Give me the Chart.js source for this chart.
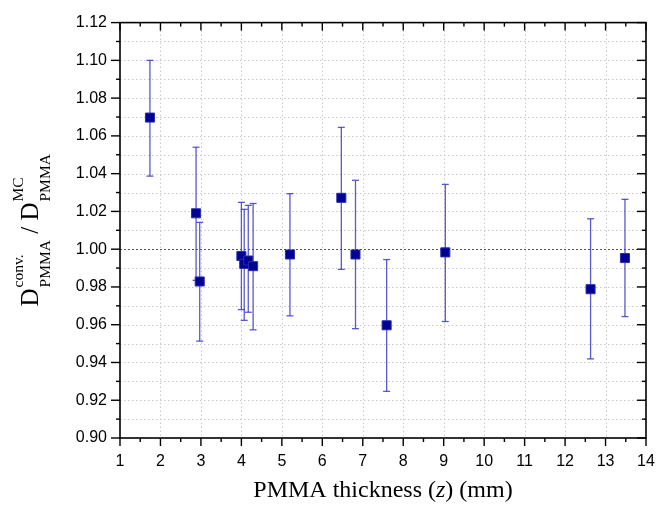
<!DOCTYPE html>
<html>
<head>
<meta charset="utf-8">
<script src="https://cdn.jsdelivr.net/npm/chart.js@4.4.0/dist/chart.umd.min.js"></script>
<style>
  html, body { margin: 0; padding: 0; background: #fff; }
  #wrap { width: 670px; height: 510px; position: relative; }
</style>
</head>
<body>
<div id="wrap"><canvas id="chart" width="670" height="510"></canvas></div>
<script>
// PMMA thickness (mm) and the conv./MC dose ratio
const thickness = [1.74, 2.88, 2.97, 4.00, 4.07, 4.17, 4.29, 5.20, 6.47, 6.82, 7.59, 9.04, 12.63, 13.48];
const doseRatio = [1.0697, 1.0190, 0.9829, 0.9964, 0.9922, 0.9940, 0.9910, 0.9972, 1.0272, 0.9972, 0.9597, 0.9983, 0.9788, 0.9953];
// error bar ends
const ratioHigh = [1.1000, 1.0540, 1.0142, 1.0248, 1.0211, 1.0232, 1.0242, 1.0294, 1.0645, 1.0365, 0.9945, 1.0343, 1.0161, 1.0264];
const ratioLow  = [1.0387, 0.9835, 0.9513, 0.9680, 0.9623, 0.9666, 0.9573, 0.9647, 0.9893, 0.9579, 0.9247, 0.9617, 0.9419, 0.9643];

const xMin = 1, xMax = 14;
const yMin = 0.90, yMax = 1.12;
const referenceRatio = 1.00;

function line(ctx, x1, y1, x2, y2) {
    ctx.beginPath();
    ctx.moveTo(x1, y1);
    ctx.lineTo(x2, y2);
    ctx.stroke();
}

// grid, 1.00 line and error bars go under the squares
const underlay = {
    id: 'underlay',
    beforeDatasetsDraw(chart) {
        const { ctx, chartArea: a, scales: { x, y } } = chart;
        ctx.save();
        ctx.lineWidth = 1;
        ctx.strokeStyle = '#c9c9c9';
        ctx.setLineDash([1.5, 2.5]);
        for (let v = xMin + 1; v < xMax; v++) {
            const px = Math.round(x.getPixelForValue(v)) + 0.5;
            line(ctx, px, a.top, px, a.bottom);
        }
        for (let i = 1; i < 22; i++) {
            const v = yMin + i * 0.01;
            if (Math.abs(v - referenceRatio) < 1e-6) continue;
            const py = Math.round(y.getPixelForValue(v)) + 0.5;
            line(ctx, a.left, py, a.right, py);
        }
        // reference line at 1.00
        ctx.strokeStyle = '#555';
        ctx.setLineDash([2, 2]);
        const ry = Math.round(y.getPixelForValue(referenceRatio)) + 0.5;
        line(ctx, a.left, ry, a.right, ry);

        // error bars
        ctx.setLineDash([]);
        ctx.strokeStyle = 'rgba(60, 60, 200, 0.85)';
        ctx.lineWidth = 1.3;
        const cap = 3.5;
        thickness.forEach((t, i) => {
            const px = x.getPixelForValue(t);
            const hi = y.getPixelForValue(ratioHigh[i]);
            const lo = y.getPixelForValue(ratioLow[i]);
            line(ctx, px, hi, px, lo);
            line(ctx, px - cap, hi, px + cap, hi);
            line(ctx, px - cap, lo, px + cap, lo);
        });
        ctx.restore();
    },
    afterDraw(chart) {
        const { ctx, chartArea: a, scales: { x, y } } = chart;
        ctx.save();
        ctx.strokeStyle = '#000';
        ctx.lineWidth = 1.6;
        ctx.strokeRect(a.left, a.top, a.right - a.left, a.bottom - a.top);

        // ticks: bottom/left outward, top/right inward
        ctx.lineWidth = 1.4;
        for (let v = xMin; v <= xMax; v += 0.5) {
            const px = x.getPixelForValue(v);
            const len = Number.isInteger(v) ? 8 : 4;
            line(ctx, px, a.bottom, px, a.bottom + len);
            line(ctx, px, a.top, px, a.top + len);
        }
        for (let i = 0; i <= 22; i++) {
            const py = y.getPixelForValue(yMin + i * 0.01);
            const len = i % 2 === 0 ? 9 : 4;
            line(ctx, a.left - len, py, a.left, py);
            line(ctx, a.right - len, py, a.right, py);
        }

        // x axis title
        ctx.fillStyle = '#000';
        ctx.textBaseline = 'alphabetic';
        const serif = '"Liberation Serif", "Times New Roman", serif';
        const parts = [
            ['PMMA thickness (', '24px ' + serif],
            ['z', 'italic 24px ' + serif],
            [') (mm)', '24px ' + serif]
        ];
        let total = 0;
        parts.forEach(p => { ctx.font = p[1]; total += ctx.measureText(p[0]).width; });
        let cx = (a.left + a.right) / 2 - total / 2;
        parts.forEach(p => {
            ctx.font = p[1];
            ctx.fillText(p[0], cx, 497);
            cx += ctx.measureText(p[0]).width;
        });

        // y axis title, rotated
        const big = '25px ' + serif, small = '15.5px ' + serif;
        const segs = [
            { t: 'D', f: big },
            { sup: 'conv.', sub: 'PMMA' },
            { t: ' / ', f: big },
            { t: 'D', f: big },
            { sup: 'MC', sub: 'PMMA' }
        ];
        const segWidth = s => {
            if (s.t) { ctx.font = s.f; return ctx.measureText(s.t).width; }
            ctx.font = small;
            return Math.max(ctx.measureText(s.sup).width, ctx.measureText(s.sub).width) + 1;
        };
        let len = 0;
        segs.forEach(s => { len += segWidth(s); });
        ctx.translate(38, (a.top + a.bottom) / 2);
        ctx.rotate(-Math.PI / 2);
        let sx = -len / 2;
        segs.forEach(s => {
            const w = segWidth(s);
            if (s.t) {
                ctx.font = s.f;
                ctx.fillText(s.t, sx, 0);
            } else {
                ctx.font = small;
                ctx.fillText(s.sup, sx + 1, -15);
                ctx.fillText(s.sub, sx + 1, 12);
            }
            sx += w;
        });
        ctx.restore();
    }
};

const tickFont = { family: '"Liberation Sans", Arial, sans-serif', size: 16 };

new Chart(document.getElementById('chart'), {
    type: 'scatter',
    data: {
        datasets: [{
            data: thickness.map((t, i) => ({ x: t, y: doseRatio[i] })),
            pointStyle: 'rect',
            pointRadius: 6.4,
            pointHoverRadius: 6.4,
            backgroundColor: '#000094',
            borderColor: '#2b2bb0',
            borderWidth: 1
        }]
    },
    options: {
        responsive: false,
        animation: false,
        devicePixelRatio: 1,
        layout: { padding: { left: 0, right: 24, top: 14.5, bottom: 0 } },
        plugins: { legend: { display: false }, tooltip: { enabled: false } },
        scales: {
            x: {
                type: 'linear',
                min: xMin,
                max: xMax,
                ticks: { stepSize: 1, font: tickFont, color: '#000', padding: 14, maxRotation: 0 },
                grid: { display: false, drawTicks: false },
                border: { display: false },
                afterFit(s) { s.height = 72; }
            },
            y: {
                min: yMin,
                max: yMax,
                ticks: {
                    stepSize: 0.02, font: tickFont, color: '#000', padding: 13,
                    callback: v => v.toFixed(2)
                },
                grid: { display: false, drawTicks: false },
                border: { display: false },
                afterFit(s) { s.width = 120; }
            }
        }
    },
    plugins: [underlay]
});
</script>
</body>
</html>
